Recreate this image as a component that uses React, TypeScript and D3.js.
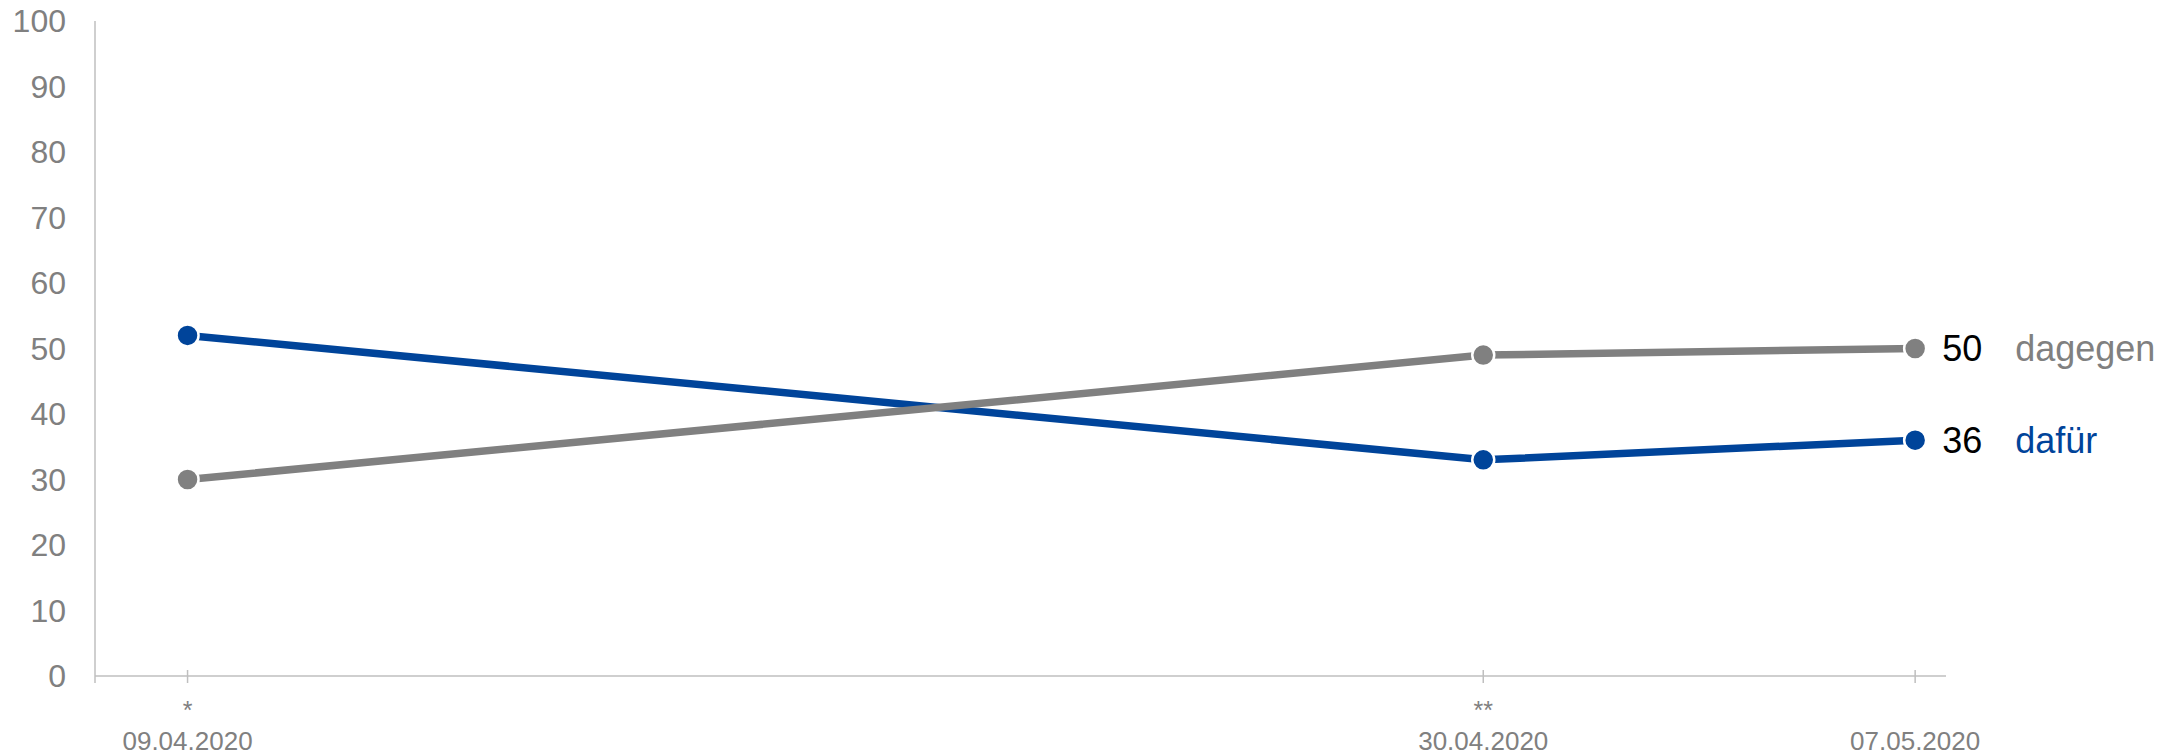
import React from "react";
import * as d3 from "d3";

const dates = ["2020-04-09", "2020-04-30", "2020-05-07"];
const dateLabels = ["09.04.2020", "30.04.2020", "07.05.2020"];
const notes = ["*", "**", ""];
const dafuer = [52, 33, 36];
const dagegen = [30, 49, 50];
const yTicks = [0, 10, 20, 30, 40, 50, 60, 70, 80, 90, 100];

const W = 2171;
const H = 754;
const BLUE = "#00449A";
const GRAY = "#808080";
const AXIS = "#BFBFBF";
const FONT = "'Liberation Sans', Arial, Helvetica, sans-serif";

const parse = d3.utcParse("%Y-%m-%d");

export default function App() {
  const left = 95;
  const right = 1946;
  const top = 21;
  const bottom = 676;

  const x = d3
    .scaleUtc()
    .domain([new Date(Date.UTC(2020, 3, 7, 12)), new Date(Date.UTC(2020, 4, 7, 12))])
    .range([left, right]);
  const y = d3.scaleLinear().domain([0, 100]).range([bottom, top]);

  const pts = dates.map((d) => parse(d) as Date);
  const line = d3
    .line<number>()
    .x((_, i) => x(pts[i]))
    .y((v) => y(v));

  const series = [
    { name: "dafür", values: dafuer, color: BLUE },
    { name: "dagegen", values: dagegen, color: GRAY },
  ];

  return (
    <svg
      width={W}
      height={H}
      style={{ position: "absolute", left: 0, top: 0, background: "#fff" }}
      fontFamily={FONT}
    >
      {/* axes */}
      <line x1={left} x2={left} y1={top} y2={bottom + 7} stroke={AXIS} strokeWidth={1.5} />
      <line x1={left} x2={right} y1={bottom} y2={bottom} stroke={AXIS} strokeWidth={1.5} />
      {yTicks.map((t) => (
        <text
          key={t}
          x={66}
          y={y(t)}
          textAnchor="end"
          dominantBaseline="central"
          fontSize={32}
          fill={GRAY}
        >
          {t}
        </text>
      ))}
      {pts.map((p, i) => (
        <g key={i}>
          <line x1={x(p)} x2={x(p)} y1={bottom - 6} y2={bottom + 7} stroke={AXIS} strokeWidth={1.5} />
          <text x={x(p)} y={719} textAnchor="middle" fontSize={25} fill={GRAY}>
            {notes[i]}
          </text>
          <text x={x(p)} y={750} textAnchor="middle" fontSize={26} fill={GRAY}>
            {dateLabels[i]}
          </text>
        </g>
      ))}
      {series.map((s) => (
        <g key={s.name}>
          <path d={line(s.values) || ""} fill="none" stroke={s.color} strokeWidth={7.5} />
          {s.values.map((v, i) => (
            <circle key={i} cx={x(pts[i])} cy={y(v)} r={11} fill={s.color} stroke="#fff" strokeWidth={2.5} />
          ))}
          <text
            x={x(pts[pts.length - 1]) + 27}
            y={y(s.values[s.values.length - 1])}
            dominantBaseline="central"
            fontSize={36}
            fill="#000"
          >
            {s.values[s.values.length - 1]}
          </text>
          <text
            x={x(pts[pts.length - 1]) + 100}
            y={y(s.values[s.values.length - 1])}
            dominantBaseline="central"
            fontSize={36}
            fill={s.color}
          >
            {s.name}
          </text>
        </g>
      ))}
    </svg>
  );
}
